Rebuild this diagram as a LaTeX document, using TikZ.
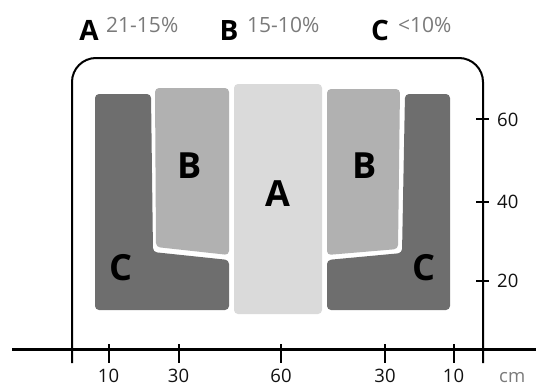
\documentclass[tikz,border=0pt]{standalone}
\usepackage{fontspec}
\setmainfont{Open Sans}
\definecolor{cA}{HTML}{DADADA}
\definecolor{cB}{HTML}{B1B1B1}
\definecolor{cC}{HTML}{6E6E6E}
\definecolor{tgray}{HTML}{7A7A7A}
\definecolor{ink}{HTML}{111111}
\begin{document}
\begin{tikzpicture}[x=1pt,y=-1pt,
  zone/.style={rounded corners=4pt},
  bigletter/.style={font=\bfseries\fontsize{36}{36}\selectfont, inner sep=0pt, anchor=base, text=black},
  titleletter/.style={font=\bfseries\fontsize{28}{28}\selectfont, inner sep=0pt, anchor=base, text=black},
  titlevalue/.style={font=\fontsize{21}{21}\selectfont, inner sep=0pt, anchor=base west, text=tgray},
  axislabel/.style={font=\fontsize{18.5}{18.5}\selectfont, inner sep=0pt, text=ink},
  axisline/.style={line width=2.2pt, draw=black},
  tickline/.style={line width=2pt, draw=black}]
\useasboundingbox (0,0) rectangle (536,386);

% zones
\fill[cC, zone] (95,94) -- (151,94) -- (153,252) -- (229,260) -- (229,310) -- (95,310) -- cycle;
\fill[cB, zone] (155,88) -- (229,88) -- (229,255) -- (156,247) -- cycle;
\fill[cA, zone] (234,84) rectangle (322,314);
\fill[cB, zone] (327,89) -- (400,89) -- (398,249) -- (327,255) -- cycle;
\fill[cC, zone] (405,94) -- (450,94) -- (450,310) -- (327,310) -- (327,260) -- (402,253) -- cycle;

% zone labels
\node[bigletter] (lB) at (190,178.3) {B};
\node[bigletter] (mA) at (278,206.7) {A};
\node[bigletter] (lC) at (121,280.7) {C};
\node[bigletter] (rB) at (365,178.3) {B};
\node[bigletter] (rC) at (423.5,280.3) {C};

% frame
\draw[line width=2pt, rounded corners=24pt] (72,363) -- (72,58) -- (483,58) -- (483,363);

% bottom axis
\draw[axisline] (12,349.5) -- (536,349.5);
\foreach \x/\t [count=\i] in {108.5/10,178.5/30,281/60,385/30,453.5/10}{
  \draw[tickline] (\x,344) -- (\x,363);
  \node[axislabel, anchor=base] (bx\i) at (\x,382) {\t};
}
\node[axislabel, anchor=base west, text=tgray] (cm) at (499,382) {cm};

% right axis
\foreach \y/\t [count=\i] in {119.3/60,201.7/40,281/20}{
  \draw[tickline] (476,\y) -- (489,\y);
  \node[axislabel, anchor=base west] (ry\i) at (497,\y+6.7) {\t};
}

% legend
\node[titleletter] (tA) at (89,40) {A};
\node[titlevalue] (vA) at (106,32.7) {21-15\%};
\node[titleletter] (tB) at (229,40) {B};
\node[titlevalue] (vB) at (247,32.7) {15-10\%};
\node[titleletter] (tC) at (380,40) {C};
\node[titlevalue] (vC) at (398,32.7) {<10\%};
\end{tikzpicture}
\end{document}
